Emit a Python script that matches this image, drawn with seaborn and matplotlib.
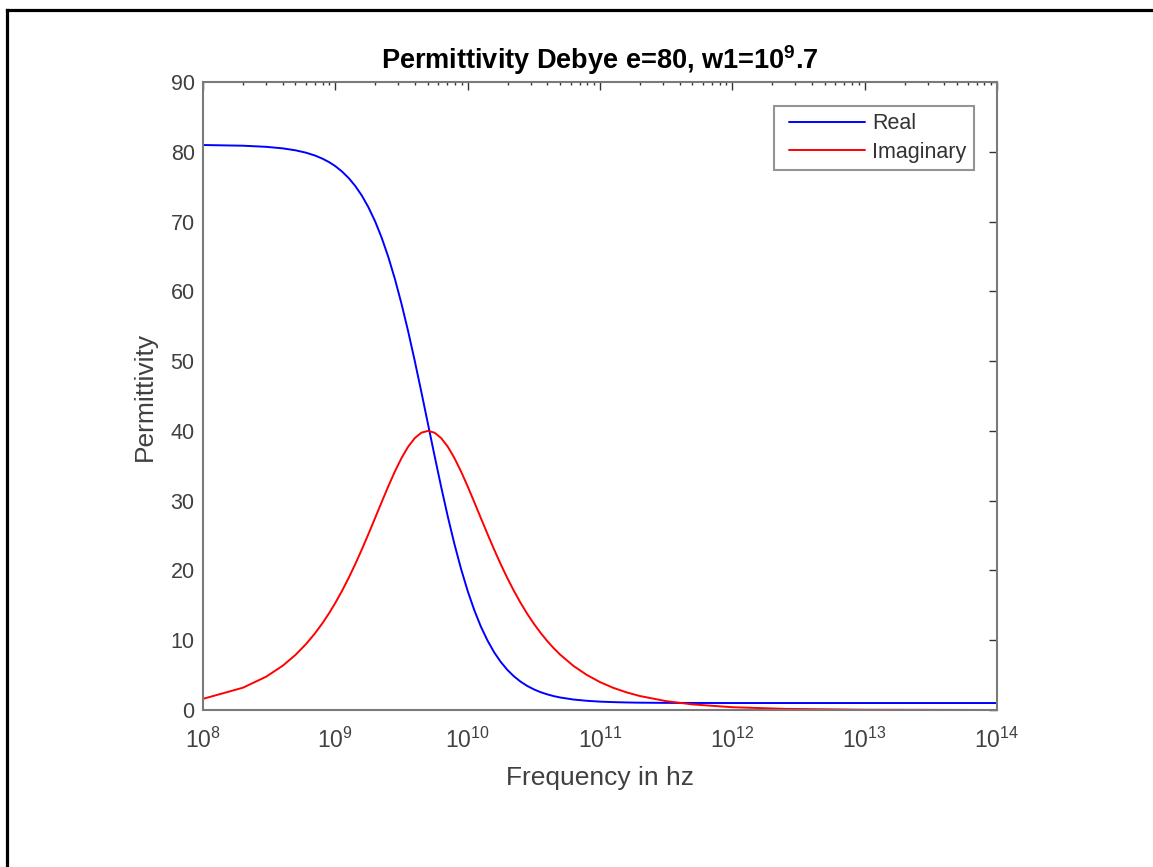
import numpy as np
import pandas as pd
import matplotlib
matplotlib.use("Agg")
import matplotlib.pyplot as plt
import seaborn as sns
from matplotlib.lines import Line2D
from matplotlib.legend_handler import HandlerLine2D
from matplotlib.ticker import LogLocator, LogFormatterSciNotation, NullFormatter

# ---- data ----
freq_hz = [1e8, 2e8, 3e8, 4e8, 5e8, 6e8, 7e8, 8e8, 9e8,
           1.000e9, 1.122e9, 1.259e9, 1.413e9, 1.585e9, 1.778e9, 1.995e9, 2.239e9,
           2.512e9, 2.818e9, 3.162e9, 3.548e9, 3.981e9, 4.467e9, 5.012e9, 5.623e9,
           6.310e9, 7.079e9, 7.943e9, 8.913e9, 1.000e10, 1.122e10, 1.259e10,
           1.413e10, 1.585e10, 1.778e10, 1.995e10, 2.239e10, 2.512e10, 2.818e10,
           3.162e10, 3.548e10, 3.981e10, 4.467e10, 5.012e10,
           6.310e10, 7.943e10, 1.000e11, 1.259e11, 1.585e11, 1.995e11, 3.162e11,
           5.012e11, 1e12, 2.512e12, 1e13, 1e14]
real_part = [80.97, 80.87, 80.71, 80.49, 80.21, 79.87, 79.47, 79.01, 78.50,
             77.94, 77.18, 76.25, 75.11, 73.73, 72.05, 70.06, 67.69, 64.94, 61.78,
             58.22, 54.29, 50.05, 45.58, 41.00, 36.42, 31.95, 27.71, 23.78, 20.22,
             17.06, 14.31, 11.94, 9.95, 8.27, 6.89, 5.75, 4.82, 4.06, 3.45, 2.96,
             2.56, 2.25, 1.99, 1.79,
             1.50, 1.32, 1.20, 1.13, 1.08, 1.05, 1.02, 1.01, 1.00, 1.00, 1.00, 1.00]
imag_part = [1.60, 3.19, 4.77, 6.34, 7.90, 9.44, 10.96, 12.45, 13.92,
             15.35, 17.05, 18.90, 20.89, 23.00, 25.21, 27.49, 29.79, 32.05, 34.18,
             36.10, 37.73, 38.96, 39.74, 40.00, 39.74, 38.96, 37.73, 36.10, 34.18,
             32.05, 29.79, 27.49, 25.21, 23.00, 20.89, 18.90, 17.05, 15.35, 13.79,
             12.37, 11.08, 9.91, 8.86, 7.92,
             6.31, 5.03, 4.00, 3.18, 2.53, 2.01, 1.27, 0.80, 0.40, 0.16, 0.04, 0.00]
series_names = ["Real", "Imaginary"]
series_colors = ["#0000ff", "#ff0000"]
y_ticks = [0, 10, 20, 30, 40, 50, 60, 70, 80, 90]
x_range = [1e8, 1e14]

title_text = r"Permittivity Debye e=80, w1=10$^{\mathbf{9}}$.7"
x_label = "Frequency in hz"
y_label = "Permittivity"

df = pd.DataFrame({
    "freq": freq_hz * 2,
    "value": real_part + imag_part,
    "series": [series_names[0]] * len(freq_hz) + [series_names[1]] * len(freq_hz),
})

sns.set_style("white")
plt.rcParams["font.family"] = ["Liberation Sans", "DejaVu Sans"]
plt.rcParams["mathtext.fontset"] = "custom"
plt.rcParams["mathtext.rm"] = "Liberation Sans"
plt.rcParams["mathtext.it"] = "Liberation Sans:italic"
plt.rcParams["mathtext.bf"] = "Liberation Sans:bold"

W, H = 1153, 867
fig = plt.figure(figsize=(W / 100, H / 100), dpi=100)
fig.patch.set_facecolor("white")

# black frame (left and top edges, as in the reference screenshot)
fig.add_artist(Line2D([6.5 / W, 6.5 / W], [0, 1 - 9.5 / H], color="black", lw=2.3,
                      transform=fig.transFigure, solid_capstyle="projecting"))
fig.add_artist(Line2D([6.5 / W, 1152 / W], [1 - 9.5 / H, 1 - 9.5 / H], color="black", lw=2.3,
                      transform=fig.transFigure, solid_capstyle="projecting"))

ax = fig.add_axes([203 / W, 1 - 710 / H, 794 / W, 628 / H])

sns.lineplot(data=df, x="freq", y="value", hue="series", hue_order=series_names,
             palette=dict(zip(series_names, series_colors)), estimator=None,
             sort=False, linewidth=1.4, ax=ax, legend=False)

ax.set_xscale("log")
ax.set_xlim(*x_range)
ax.set_ylim(y_ticks[0], y_ticks[-1])
ax.set_yticks(y_ticks)
ax.xaxis.set_major_locator(LogLocator(base=10, numticks=20))
ax.xaxis.set_minor_locator(LogLocator(base=10, subs=np.arange(2, 10), numticks=100))
ax.xaxis.set_major_formatter(LogFormatterSciNotation())
ax.xaxis.set_minor_formatter(NullFormatter())

spine_col = "#7a7a7a"
for s in ax.spines.values():
    s.set_visible(True)
    s.set_color(spine_col)
    s.set_linewidth(1.5)

ax.tick_params(axis="both", which="both", direction="in", top=True, right=True,
               colors="#333333", labelcolor="#404040")
ax.tick_params(axis="both", which="major", length=5.5, width=1.0, labelsize=15.5)
ax.tick_params(axis="x", which="major", labelsize=16.5, pad=13)
ax.tick_params(axis="y", which="major", pad=6)
ax.tick_params(axis="x", which="minor", length=2.5, width=1.0)

ax.set_xlabel(x_label, fontsize=19, color="#404040", labelpad=9)
ax.set_ylabel(y_label, fontsize=19, color="#404040", labelpad=10)
ax.set_title(title_text, fontsize=19.5, fontweight="bold", color="black", pad=9)

handles = [Line2D([], [], color=c, lw=1.4) for c in series_colors]
leg = ax.legend(handles, series_names, loc="upper right", bbox_to_anchor=(0.971, 0.962),
                fontsize=15.5, frameon=True, fancybox=False, handlelength=3.85,
                handletextpad=0.35, labelspacing=0.35, borderpad=0.35, borderaxespad=0,
                handler_map={Line2D: HandlerLine2D(xpad=0.35)})
leg.get_frame().set_edgecolor(spine_col)
leg.get_frame().set_linewidth(1.5)
for t in leg.get_texts():
    t.set_color("#333333")

fig.savefig("out.png", dpi=100, facecolor="white")
